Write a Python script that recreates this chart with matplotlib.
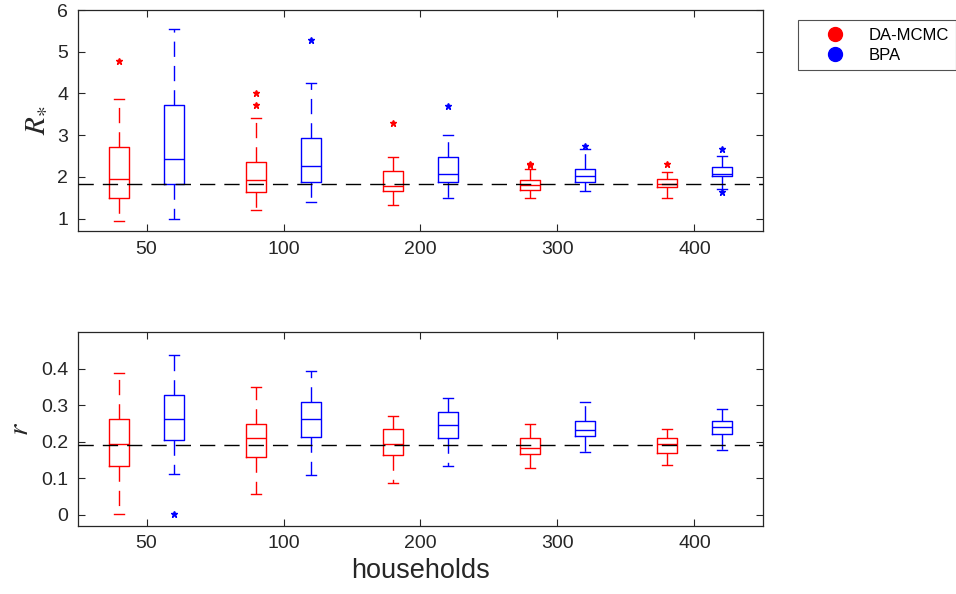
import numpy as np
import matplotlib
matplotlib.use("Agg")
import matplotlib.pyplot as plt
from matplotlib.lines import Line2D

plt.rcParams['font.family'] = ['Liberation Sans', 'DejaVu Sans']
plt.rcParams['mathtext.fontset'] = 'stix'

households = ['50', '100', '200', '300', '400']
methods = ['DA-MCMC', 'BPA']

# R_* summaries per household count (whisker low, q1, median, q3, whisker high)
R_mcmc_lo = [0.94, 1.21, 1.33, 1.50, 1.50]
R_mcmc_q1 = [1.50, 1.64, 1.67, 1.69, 1.75]
R_mcmc_med = [1.95, 1.93, 1.78, 1.81, 1.83]
R_mcmc_q3 = [2.71, 2.35, 2.14, 1.92, 1.94]
R_mcmc_hi = [3.86, 3.41, 2.48, 2.19, 2.11]
R_mcmc_out = [[4.79], [4.01, 3.73], [3.29], [2.28, 2.30], [2.31]]

R_bpa_lo = [0.98, 1.40, 1.50, 1.67, 1.70]
R_bpa_q1 = [1.84, 1.87, 1.88, 1.88, 2.01]
R_bpa_med = [2.43, 2.25, 2.08, 2.03, 2.07]
R_bpa_q3 = [3.72, 2.93, 2.47, 2.20, 2.23]
R_bpa_hi = [5.54, 4.25, 3.00, 2.68, 2.50]
R_bpa_out = [[], [5.29], [3.69], [2.75], [2.68, 1.64]]

# r summaries
r_mcmc_lo = [0.003, 0.058, 0.086, 0.127, 0.135]
r_mcmc_q1 = [0.134, 0.157, 0.165, 0.167, 0.169]
r_mcmc_med = [0.195, 0.211, 0.194, 0.184, 0.193]
r_mcmc_q3 = [0.261, 0.249, 0.235, 0.211, 0.209]
r_mcmc_hi = [0.388, 0.350, 0.270, 0.249, 0.236]
r_mcmc_out = [[], [], [], [], []]

r_bpa_lo = [0.111, 0.108, 0.133, 0.173, 0.178]
r_bpa_q1 = [0.205, 0.214, 0.209, 0.215, 0.222]
r_bpa_med = [0.261, 0.261, 0.245, 0.232, 0.240]
r_bpa_q3 = [0.329, 0.309, 0.282, 0.256, 0.257]
r_bpa_hi = [0.437, 0.395, 0.320, 0.308, 0.289]
r_bpa_out = [[0.003], [], [], [], []]

R_true = 1.82
r_true = 0.19

axcol = '#262626'


def make_stats(lo, q1, med, q3, hi, out):
    return [dict(whislo=lo[i], q1=q1[i], med=med[i], q3=q3[i], whishi=hi[i],
                 fliers=out[i]) for i in range(len(med))]


def draw_boxes(ax, stats, pos, col):
    ax.bxp(stats, positions=pos, widths=0.15, capwidths=0.075,
           showfliers=True, manage_ticks=False,
           boxprops=dict(color=col, lw=1.0),
           medianprops=dict(color=col, lw=1.0),
           whiskerprops=dict(color=col, lw=1.0, linestyle=(0, (11, 6.5))),
           capprops=dict(color=col, lw=1.0),
           flierprops=dict(marker='*', markersize=5, markerfacecolor=col,
                           markeredgecolor=col, linestyle='none'))


def style_axis(ax):
    for s in ax.spines.values():
        s.set_color(axcol)
        s.set_linewidth(0.9)
    ax.tick_params(direction='in', top=True, right=True, length=5,
                   width=0.8, color=axcol, labelcolor=axcol, labelsize=14,
                   pad=7)
    ax.set_xlim(0.5, 5.5)
    ax.set_xticks(np.arange(1, 6))
    ax.set_xticklabels(households)


fig = plt.figure(figsize=(9.56, 5.94), dpi=100)
ax1 = fig.add_axes([0.0816, 0.611, 0.7165, 0.372])
ax2 = fig.add_axes([0.0816, 0.115, 0.7165, 0.3256])

x = np.arange(1, 6)
red = '#ff0000'
blue = '#0000ff'

draw_boxes(ax1, make_stats(R_mcmc_lo, R_mcmc_q1, R_mcmc_med, R_mcmc_q3, R_mcmc_hi, R_mcmc_out), x - 0.2, red)
draw_boxes(ax1, make_stats(R_bpa_lo, R_bpa_q1, R_bpa_med, R_bpa_q3, R_bpa_hi, R_bpa_out), x + 0.2, blue)
ax1.axhline(R_true, color='k', lw=1.0, linestyle=(0, (11, 6.5)), zorder=3)
style_axis(ax1)
ax1.set_ylim(0.7, 6.0)
ax1.set_yticks([1, 2, 3, 4, 5, 6])
ax1.set_ylabel(r'$R_{\ast}$', fontsize=21, color=axcol, labelpad=5)

draw_boxes(ax2, make_stats(r_mcmc_lo, r_mcmc_q1, r_mcmc_med, r_mcmc_q3, r_mcmc_hi, r_mcmc_out), x - 0.2, red)
draw_boxes(ax2, make_stats(r_bpa_lo, r_bpa_q1, r_bpa_med, r_bpa_q3, r_bpa_hi, r_bpa_out), x + 0.2, blue)
ax2.axhline(r_true, color='k', lw=1.0, linestyle=(0, (11, 6.5)), zorder=3)
style_axis(ax2)
ax2.set_ylim(-0.03, 0.5)
ax2.set_yticks([0, 0.1, 0.2, 0.3, 0.4])
ax2.set_yticklabels(['0', '0.1', '0.2', '0.3', '0.4'])
ax2.set_ylabel(r'$r$', fontsize=21, color=axcol, labelpad=5)
ax2.set_xlabel('households', fontsize=19.5, color=axcol, labelpad=4)

handles = [Line2D([], [], marker='o', linestyle='none', markersize=10,
                  markerfacecolor=c, markeredgecolor=c) for c in (red, blue)]
leg = fig.legend(handles, methods, loc='upper left',
                 bbox_to_anchor=(0.835, 0.966), fontsize=12,
                 frameon=True, fancybox=False, borderpad=0.45,
                 handletextpad=0.25, labelspacing=0.3, borderaxespad=0,
                 handlelength=3.5)
leg.get_frame().set_edgecolor('#262626')
leg.get_frame().set_linewidth(0.8)

fig.savefig('out.png', dpi=100)
